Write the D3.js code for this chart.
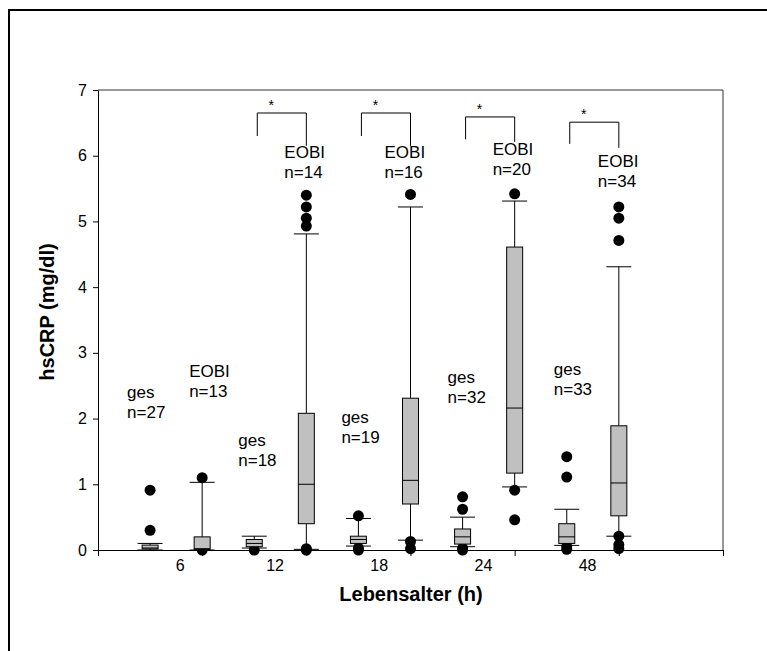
<!DOCTYPE html>
<html lang="de">
<head>
<meta charset="UTF-8">
<title>hsCRP nach Lebensalter</title>
<script src="https://d3js.org/d3.v7.min.js"></script>
<style>
  body { margin: 0; background: #fff; }
  svg { font-family: "Liberation Sans", Arial, sans-serif; display: block; }
  .tick-label { font-size: 16px; fill: #000; }
  .anno { font-size: 17px; fill: #000; }
  .title { font-size: 20px; font-weight: bold; fill: #000; }
</style>
</head>
<body>
<svg id="chart" width="767" height="651"></svg>
<script>
// Lebensalter (h) gruppen
const categories = ["6", "12", "18", "24", "48"];
const series = ["ges", "EOBI"];

// box stats per group: [unterer whisker, q1, median, q3, oberer whisker]
const gesStats = [
  [0.00, 0.015, 0.03, 0.075, 0.10],
  [0.03, 0.05, 0.10, 0.16, 0.21],
  [0.06, 0.10, 0.16, 0.21, 0.48],
  [0.05, 0.09, 0.20, 0.32, 0.50],
  [0.07, 0.10, 0.20, 0.40, 0.62]
];
const eobiStats = [
  [0.00, 0.01, 0.02, 0.20, 1.03],
  [0.01, 0.40, 1.00, 2.08, 4.81],
  [0.15, 0.70, 1.06, 2.31, 5.22],
  [0.96, 1.17, 2.16, 4.61, 5.31],
  [0.21, 0.52, 1.02, 1.89, 4.31]
];
// ausreisser
const gesOutliers = [
  [0.91, 0.30],
  [0.00],
  [0.52, 0.03, 0.00],
  [0.81, 0.62, 0.03, 0.00],
  [1.42, 1.11, 0.05, 0.01]
];
const eobiOutliers = [
  [1.10, 0.00],
  [5.40, 5.22, 5.05, 4.93, 0.02, 0.00],
  [5.41, 0.13, 0.02],
  [5.42, 0.91, 0.46],
  [5.22, 5.05, 4.71, 0.21, 0.08, 0.02]
];
const gesN = [27, 18, 19, 32, 33];
const eobiN = [13, 14, 16, 20, 34];
const significant = [false, true, true, true, true];
const yTicks = [0, 1, 2, 3, 4, 5, 6, 7];

// layout (nur platzierung, keine daten)
const gesLabel = [[-23, 398], [-16, 446], [-17, 423], [-15, 383], [-13, 375]];
const eobiLabel = [[-13, 377], [-22, 158], [-26, 158], [-22, 155], [-21, 167]];
const bracketY = [null, [6.65, 6.30, 6.15], [6.65, 6.30, 6.15], [6.59, 6.25, 6.21], [6.51, 6.18, 6.12]];
const tickLabelPos = [1.58, 3.40, 5.40, 7.40, 9.40];

const svg = d3.select("#chart");

// aussenrahmen
svg.append("rect")
  .attr("x", 9).attr("y", 10)
  .attr("width", 800).attr("height", 700)
  .attr("fill", "none").attr("stroke", "#000").attr("stroke-width", 2);

const x = d3.scaleLinear().domain([0, 12]).range([98, 723]);
const y = d3.scaleLinear().domain([0, 7]).range([550, 90]);

const boxW = 16, capW = 25, r = 5.5;

// boxes als flache liste
const boxes = [];
categories.forEach((c, i) => {
  boxes.push({ cat: c, s: "ges", pos: 2 * i + 1, st: gesStats[i], out: gesOutliers[i] });
  boxes.push({ cat: c, s: "EOBI", pos: 2 * i + 2, st: eobiStats[i], out: eobiOutliers[i] });
});

// achsen
const yAxis = d3.axisLeft(y).tickValues(yTicks).tickFormat(d3.format("d")).tickSize(5).tickPadding(6);
const gy = svg.append("g").attr("transform", `translate(${x(0)},0)`).call(yAxis);
gy.select(".domain").attr("stroke", "#000");
gy.selectAll("text").attr("class", "tick-label").attr("font-family", null).attr("font-size", null);

const xAxis = d3.axisBottom(x).tickValues([2, 4, 6, 8, 10, 12]).tickSize(6).tickFormat("");
const gx = svg.append("g").attr("transform", `translate(0,${y(0)})`).call(xAxis);
gx.select(".domain").attr("stroke", "#000");

// rahmen oben/rechts
svg.append("path")
  .attr("d", `M${x(0)},${y(7)}H${x(12)}V${y(0)}`)
  .attr("fill", "none").attr("stroke", "#333").attr("stroke-width", 1);

// x tick labels
svg.selectAll(".xlab").data(categories).enter().append("text")
  .attr("class", "tick-label")
  .attr("x", (d, i) => x(tickLabelPos[i]))
  .attr("y", y(0) + 21)
  .attr("text-anchor", "middle")
  .text(d => d);

// ausreisser zuerst, boxes darueber
const g = svg.append("g");
boxes.forEach(b => {
  const cx = x(b.pos);
  b.out.forEach(v => {
    g.append("circle").attr("cx", cx).attr("cy", y(v)).attr("r", r).attr("fill", "#000");
  });
});

boxes.forEach(b => {
  const cx = x(b.pos);
  const [lo, q1, med, q3, hi] = b.st;
  g.append("line").attr("x1", cx).attr("x2", cx).attr("y1", y(hi)).attr("y2", y(q3)).attr("stroke", "#000");
  g.append("line").attr("x1", cx).attr("x2", cx).attr("y1", y(q1)).attr("y2", y(lo)).attr("stroke", "#000");
  g.append("line").attr("x1", cx - capW / 2).attr("x2", cx + capW / 2).attr("y1", y(hi)).attr("y2", y(hi)).attr("stroke", "#000");
  g.append("line").attr("x1", cx - capW / 2).attr("x2", cx + capW / 2).attr("y1", y(lo)).attr("y2", y(lo)).attr("stroke", "#000");
  g.append("rect")
    .attr("x", cx - boxW / 2).attr("y", y(q3))
    .attr("width", boxW).attr("height", Math.max(1, y(q1) - y(q3)))
    .attr("fill", "#c0c0c0").attr("stroke", "#000");
  g.append("line").attr("x1", cx - boxW / 2).attr("x2", cx + boxW / 2).attr("y1", y(med)).attr("y2", y(med)).attr("stroke", "#000");
});

// beschriftungen ges / EOBI mit n
categories.forEach((c, i) => {
  const pairs = [
    [series[0], gesN[i], x(2 * i + 1) + gesLabel[i][0], gesLabel[i][1]],
    [series[1], eobiN[i], x(2 * i + 2) + eobiLabel[i][0], eobiLabel[i][1]]
  ];
  pairs.forEach(([name, n, lx, ly]) => {
    svg.append("text").attr("class", "anno").attr("x", lx).attr("y", ly).text(name);
    svg.append("text").attr("class", "anno").attr("x", lx).attr("y", ly + 20).text("n=" + n);
  });
});

// signifikanz-klammern
categories.forEach((c, i) => {
  if (!significant[i]) return;
  const [top, lb, rb] = bracketY[i];
  const x1 = x(2 * i + 1) + 3, x2 = x(2 * i + 2);
  svg.append("path")
    .attr("d", `M${x1},${y(lb)}V${y(top)}H${x2}V${y(rb)}`)
    .attr("fill", "none").attr("stroke", "#000").attr("stroke-width", 1);
  svg.append("text")
    .attr("x", x1 + 14).attr("y", y(top) - 3)
    .attr("text-anchor", "middle")
    .attr("font-size", 14)
    .text("*");
});

// achsentitel
svg.append("text").attr("class", "title")
  .attr("x", 411).attr("y", 601)
  .attr("text-anchor", "middle")
  .text("Lebensalter (h)");
svg.append("text").attr("class", "title")
  .attr("transform", "translate(54,312) rotate(-90)")
  .attr("text-anchor", "middle")
  .text("hsCRP (mg/dl)");
</script>
</body>
</html>
